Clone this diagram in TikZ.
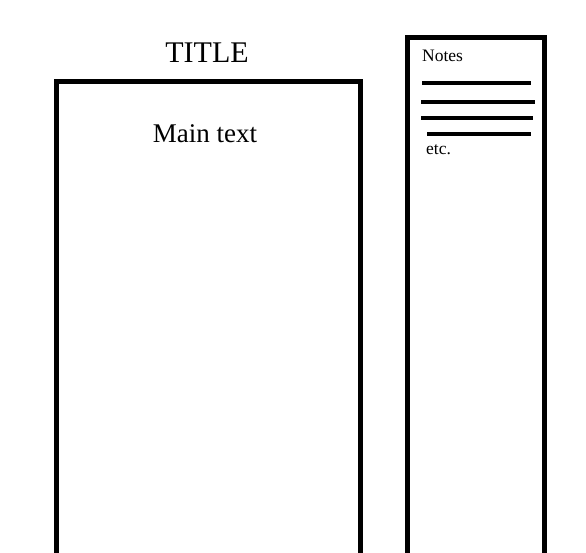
\documentclass[tikz,border=0pt]{standalone}
\usepackage{fontspec}
\setmainfont{Liberation Serif}
\usetikzlibrary{positioning}

\begin{document}
\begin{tikzpicture}
				[
					x=1pt, y=-1pt,
					framebox/.style={rectangle, draw=black, line width=5pt, inner sep=0pt, outer sep=0pt, anchor=north west},
					titletext/.style={font=\fontsize{30}{36}\selectfont},
					maintext/.style={font=\fontsize{27}{32}\selectfont},
					smalltext/.style={font=\fontsize{17.5}{20}\selectfont, anchor=west, inner sep=0pt},
					noteline/.style={line width=3.5pt},
				]
				
				\useasboundingbox (0,0) rectangle (586,552);
				\clip (0,0) rectangle (586,552);

				\node [framebox, minimum width=304pt, minimum height=520pt] (mainbox) at (56.5,81) {};
				\node [framebox, minimum width=137pt, minimum height=540pt] (notesbox) at (407.5,37) {};

				\node [titletext] (title) at (207,53) {TITLE};
				\node [maintext] (main) at (205,134) {Main text};
				\node [smalltext] (notes) at (422,56) {Notes};
				\node [smalltext] (etc) at (426,150) {etc.};

				\foreach \y/\a/\b in {83/422/531, 102/421/535, 118/421/533, 134/427/531}
					\draw[noteline] (\a,\y) -- (\b,\y);

			\end{tikzpicture}
\end{document}
